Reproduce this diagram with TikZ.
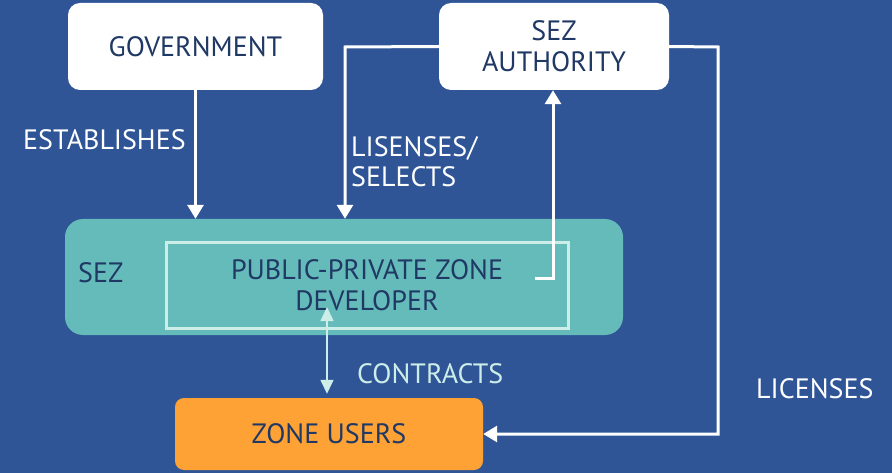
\documentclass[tikz,border=0pt]{standalone}
\usepackage{fontspec}
\setmainfont{PT Sans}
\usepackage{tikz}
\usetikzlibrary{arrows.meta}
\definecolor{bgblue}{HTML}{2F5597}
\definecolor{navy}{HTML}{1F3864}
\definecolor{sezteal}{HTML}{65BBBA}
\definecolor{zoneorange}{HTML}{FFA235}
\definecolor{palet}{HTML}{CDEDE9}
\tikzstyle{line} = [draw, white, line width=3pt, -{Triangle[width=16pt,length=14pt]}]
\tikzstyle{thinline} = [draw, palet, line width=1.5pt, {Triangle[width=13pt,length=14pt]}-{Triangle[width=13pt,length=14pt]}]
\tikzstyle{wbox} = [rectangle, rounded corners=12pt, fill=white, text=navy, align=center, minimum height=87pt, font=\fontsize{28}{31}\selectfont]
\tikzstyle{sezbox} = [rectangle, rounded corners=18pt, fill=sezteal, minimum width=558pt, minimum height=116pt]
\tikzstyle{devbox} = [rectangle, draw=palet, line width=3pt, text=navy, align=center, minimum width=402pt, minimum height=85pt, font=\fontsize{28}{31}\selectfont]
\tikzstyle{userbox} = [rectangle, rounded corners=9pt, fill=zoneorange, text=navy, minimum width=308pt, minimum height=72pt, font=\fontsize{28}{31}\selectfont]
\tikzstyle{lbl} = [white, inner sep=0pt, align=left, font=\fontsize{28}{30}\selectfont]

\begin{document}
\begin{tikzpicture}[x=1pt, y=-1pt]
		\useasboundingbox (0,0) rectangle (892,473);
		\fill[bgblue] (0,0) rectangle (892,473);
		
		\node[wbox, minimum width=255pt] (gov) at (195.5,46.5) {GOVERNMENT};
		\node[wbox, minimum width=230pt] (sez_auth) at (554,46.5) {SEZ\\AUTHORITY};
		
		\node[sezbox] (sez) at (344,277) {};
		\node[lbl, text=navy, anchor=west] (sez_lbl) at (78,273) {SEZ};
		\node[devbox] (ppz_dev) at (367,285.5) {PUBLIC-PRIVATE ZONE\\DEVELOPER};
		
		\node[userbox] (zone_users) at (329,434) {ZONE USERS};
		
		% establishes
		\path [line] (gov.south) to (gov.south|-sez.north);
		\node[lbl, anchor=west] (establishes) at (23,140) {ESTABLISHES};
		
		% lisenses / selects
		\coordinate (sel_turn) at (345,47);
		\path [line] (sez_auth.west) -- (sel_turn) -- (sel_turn|-sez.north);
		\node[lbl, anchor=west] (selects) at (351,162) {LISENSES/\\SELECTS};
		
		\coordinate (dev_out) at (535,279);
		\coordinate (dev_up) at (553,279);
		\path [line] (dev_out) -- (dev_up) -- (dev_up|-sez_auth.south);
		
		% licenses
		\coordinate (lic_turn) at (718,47);
		\path [line] (sez_auth.east) -- (lic_turn) |- (zone_users.east);
		\node[lbl, anchor=west] (licenses) at (756,389) {LICENSES};
		
		% contracts
		\coordinate (contr_top) at (327,307);
		\path [thinline, shorten >=4pt] (contr_top) -- (contr_top|-zone_users.north);
		\node[lbl, text=palet, anchor=west] (contracts) at (357,374) {CONTRACTS};
	\end{tikzpicture}
\end{document}
